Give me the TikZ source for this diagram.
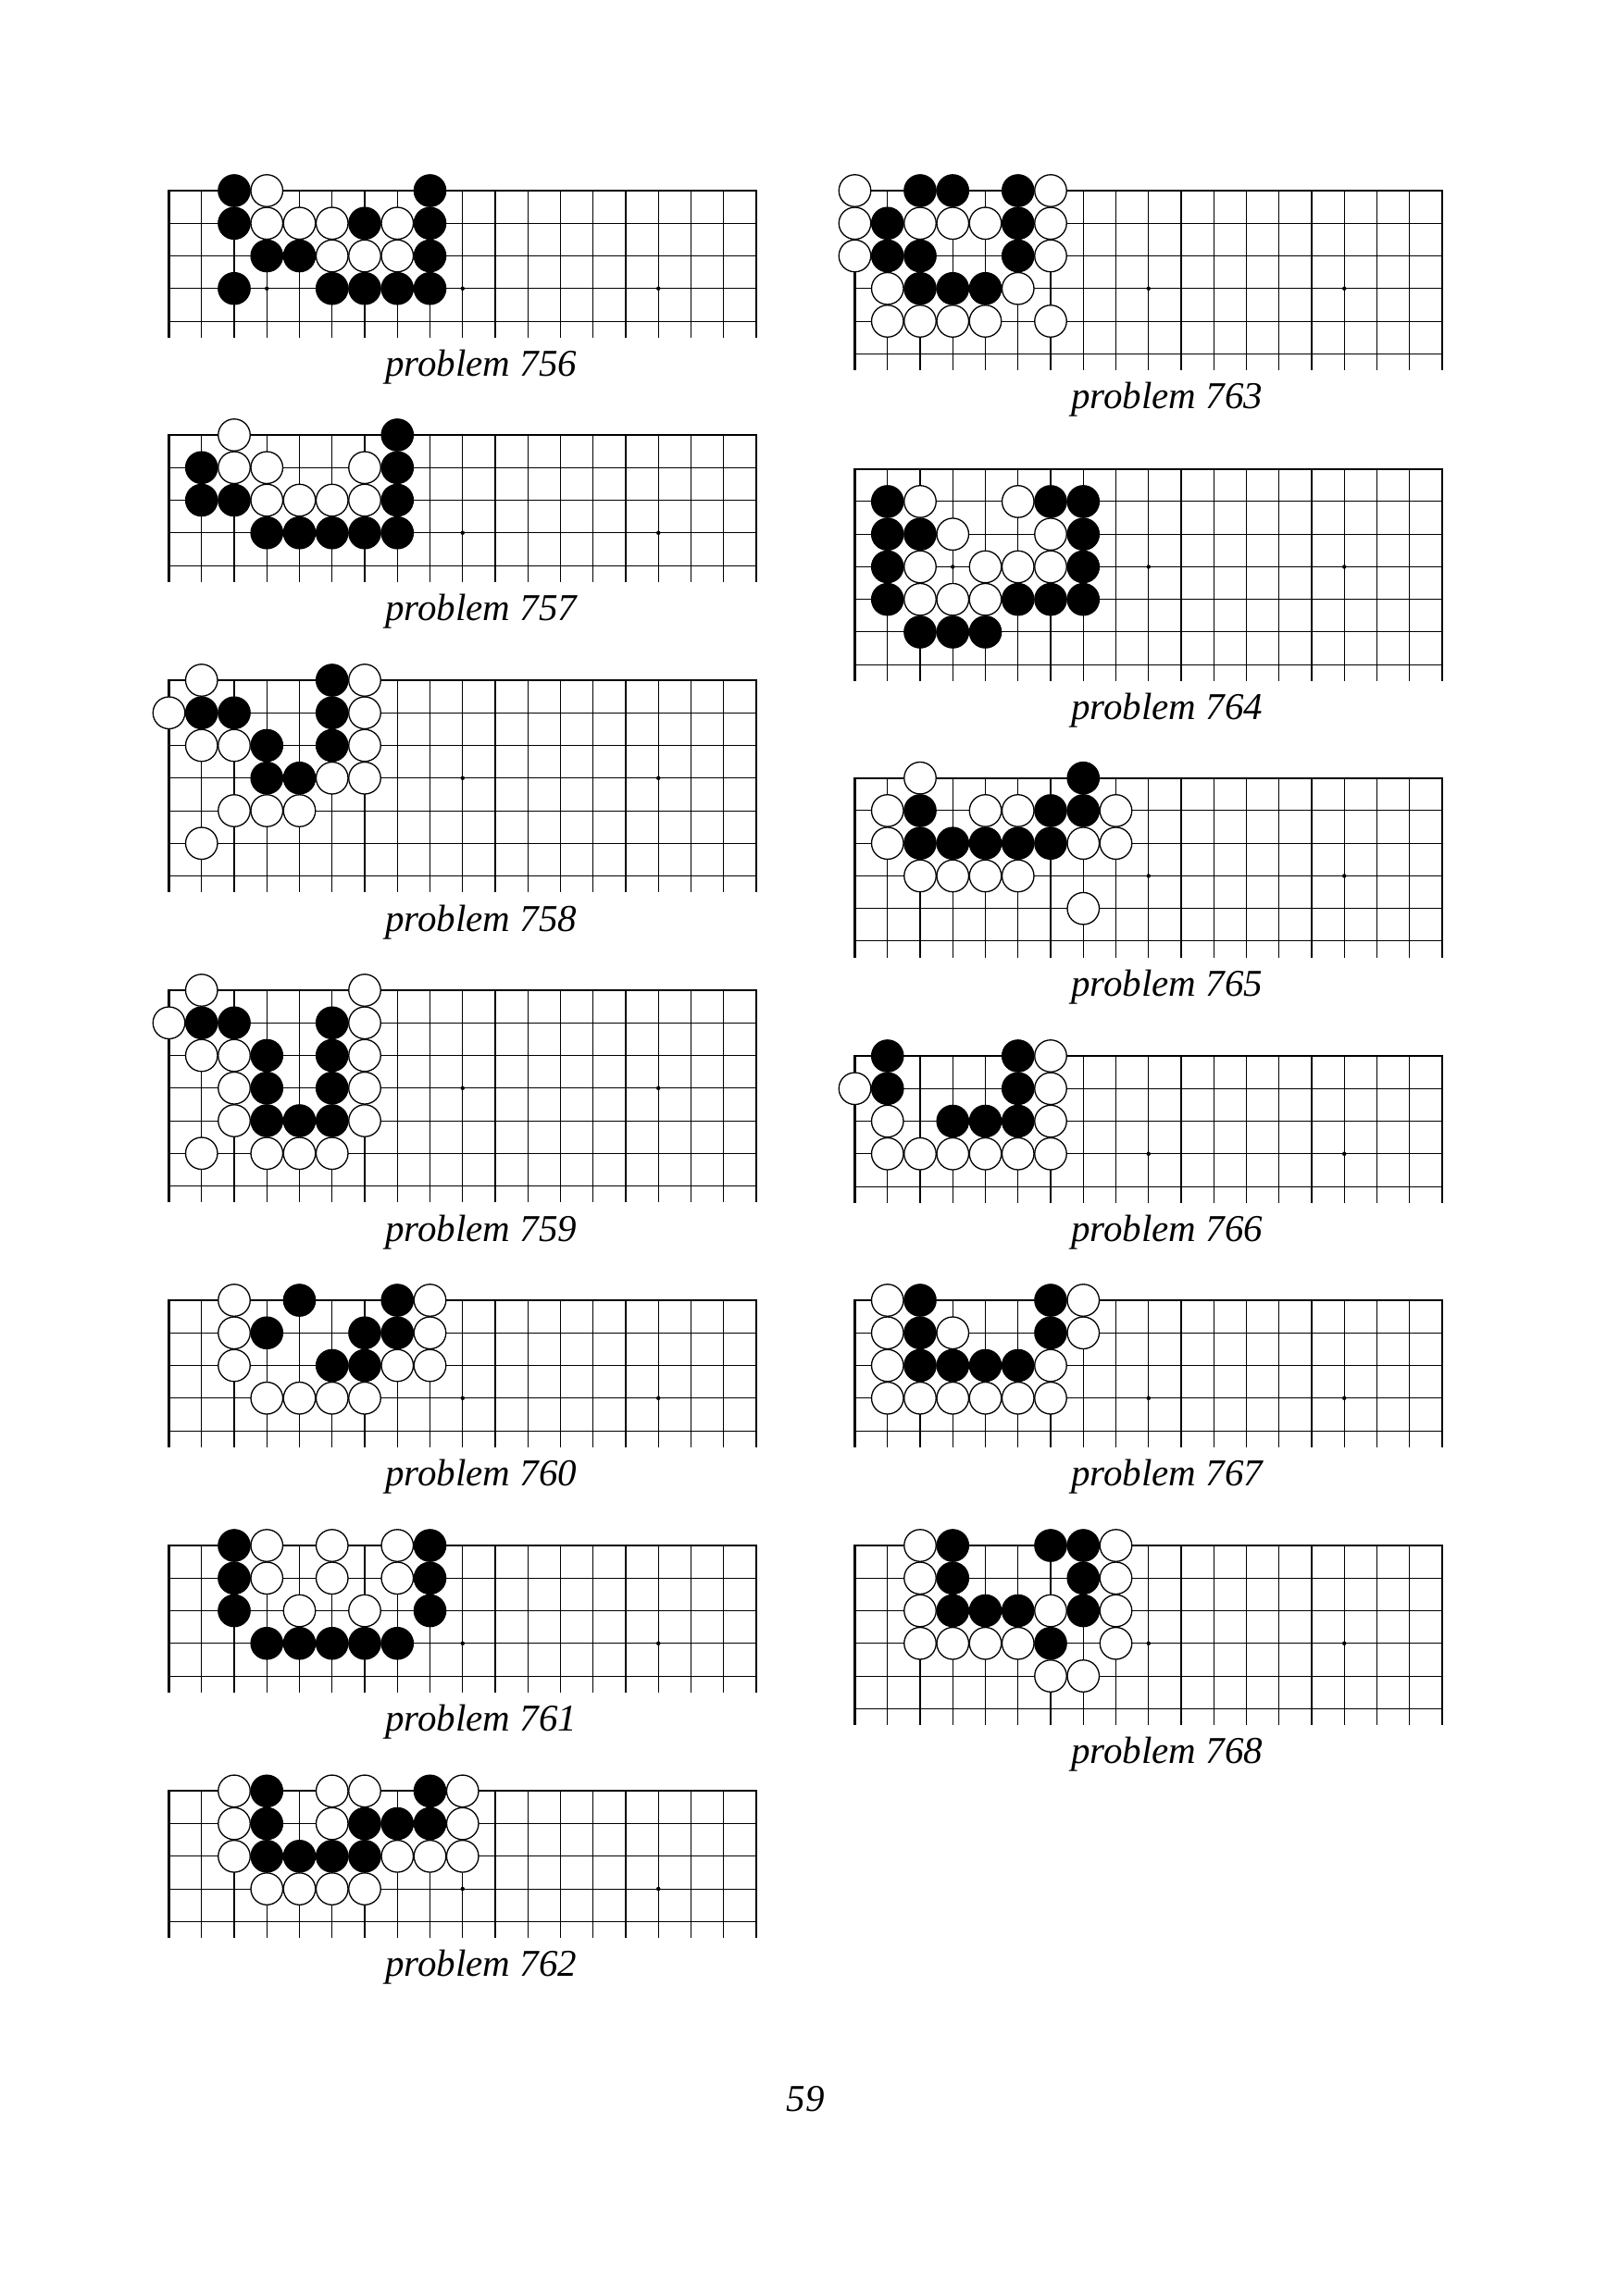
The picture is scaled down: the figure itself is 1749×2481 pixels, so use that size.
\documentclass[tikz,border=0pt]{standalone}
\usepackage{fontspec}
\setmainfont{Liberation Serif}
\newcommand\capfont{\itshape\fontsize{14}{16}\selectfont}
\def\gs{35.25}
\def\sr{2.07mm}
\tikzset{
  gridline/.style={line width=0.35pt, black},
  edgeline/.style={line width=0.75pt, black},
  blackstone/.style={fill=black, draw=black, line width=0.4pt},
  whitestone/.style={fill=white, draw=black, line width=0.45pt},
  hoshi/.style={fill=black},
  caption/.style={font=\capfont, anchor=base, inner sep=0pt},
}
% #1 x0, #2 y0, #3 rows, #4 number, #5 black stones, #6 white stones
\newcommand\goboard[6]{%
  \begin{scope}[shift={(#1,#2)}]
    \pgfmathsetmacro\bbot{(#3-0.5)*\gs}
    \pgfmathsetmacro\wid{18*\gs}
    \pgfmathtruncatemacro\lastrow{#3-1}
    \foreach \cc in {1,...,17} \draw[gridline] (\cc*\gs,0) -- (\cc*\gs,\bbot);
    \foreach \rr in {1,...,\lastrow} \draw[gridline] (0,\rr*\gs) -- (\wid,\rr*\gs);
    \draw[edgeline] (0,\bbot) -- (0,0) -- (\wid,0) -- (\wid,\bbot);
    \foreach \cc in {3,9,15} \fill[hoshi] (\cc*\gs,3*\gs) circle[radius=0.27mm];
    \foreach \cc/\rr in {#5} \draw[blackstone] (\cc*\gs,\rr*\gs) circle[radius=\sr];
    \foreach \cc/\rr in {#6} \draw[whitestone] (\cc*\gs,\rr*\gs) circle[radius=\sr];
    \node[caption] (label#4) at (9*\gs+20,\bbot+42) {problem #4};
  \end{scope}}
\begin{document}
\begin{tikzpicture}[x=0.12007mm, y=-0.12007mm]
\useasboundingbox (0,0) rectangle (1749,2481);
\fill[white] (0,0) rectangle (1749,2481);
% left column
\goboard{182.5}{206}{5}{756}
 {2/0,8/0,2/1,6/1,8/1,3/2,4/2,8/2,2/3,5/3,6/3,7/3,8/3}
 {3/0,3/1,4/1,5/1,7/1,5/2,6/2,7/2}
\goboard{182.5}{470}{5}{757}
 {7/0,1/1,7/1,1/2,2/2,7/2,3/3,4/3,5/3,6/3,7/3}
 {2/0,2/1,3/1,6/1,3/2,4/2,5/2,6/2}
\goboard{182.5}{735}{7}{758}
 {5/0,1/1,2/1,5/1,3/2,5/2,3/3,4/3}
 {1/0,6/0,0/1,6/1,1/2,2/2,6/2,5/3,6/3,2/4,3/4,4/4,1/5}
\goboard{182.5}{1070}{7}{759}
 {1/1,2/1,5/1,3/2,5/2,3/3,5/3,3/4,4/4,5/4}
 {1/0,6/0,0/1,6/1,1/2,2/2,6/2,2/3,6/3,2/4,6/4,1/5,3/5,4/5,5/5}
\goboard{182.5}{1405}{5}{760}
 {4/0,7/0,3/1,6/1,7/1,5/2,6/2}
 {2/0,8/0,2/1,8/1,2/2,7/2,8/2,3/3,4/3,5/3,6/3}
\goboard{182.5}{1670}{5}{761}
 {2/0,8/0,2/1,8/1,2/2,8/2,3/3,4/3,5/3,6/3,7/3}
 {3/0,5/0,7/0,3/1,5/1,7/1,4/2,6/2}
\goboard{182.5}{1935.3}{5}{762}
 {3/0,8/0,3/1,6/1,7/1,8/1,3/2,4/2,5/2,6/2}
 {2/0,5/0,6/0,9/0,2/1,5/1,9/1,2/2,7/2,8/2,9/2,3/3,4/3,5/3,6/3}
% right column
\goboard{923.5}{206}{6}{763}
 {2/0,3/0,5/0,1/1,5/1,1/2,2/2,5/2,2/3,3/3,4/3}
 {0/0,6/0,0/1,2/1,3/1,4/1,6/1,0/2,6/2,1/3,5/3,1/4,2/4,3/4,4/4,6/4}
\goboard{923.5}{506.7}{7}{764}
 {1/1,6/1,7/1,1/2,2/2,7/2,1/3,7/3,1/4,5/4,6/4,7/4,2/5,3/5,4/5}
 {2/1,5/1,3/2,6/2,2/3,4/3,5/3,6/3,2/4,3/4,4/4}
\goboard{923.5}{840.7}{6}{765}
 {7/0,2/1,6/1,7/1,2/2,3/2,4/2,5/2,6/2}
 {2/0,1/1,4/1,5/1,8/1,1/2,7/2,8/2,2/3,3/3,4/3,5/3,7/4}
\goboard{923.5}{1141}{5}{766}
 {1/0,5/0,1/1,5/1,3/2,4/2,5/2}
 {6/0,0/1,6/1,1/2,6/2,1/3,2/3,3/3,4/3,5/3,6/3}
\goboard{923.5}{1405}{5}{767}
 {2/0,6/0,2/1,6/1,2/2,3/2,4/2,5/2}
 {1/0,7/0,1/1,3/1,7/1,1/2,6/2,1/3,2/3,3/3,4/3,5/3,6/3}
\goboard{923.5}{1670}{6}{768}
 {3/0,6/0,7/0,3/1,7/1,3/2,4/2,5/2,7/2,6/3}
 {2/0,8/0,2/1,8/1,2/2,6/2,8/2,2/3,3/3,4/3,5/3,8/3,6/4,7/4}
\node[caption] (pagenum) at (870,2281) {59};
\end{tikzpicture}
\end{document}
